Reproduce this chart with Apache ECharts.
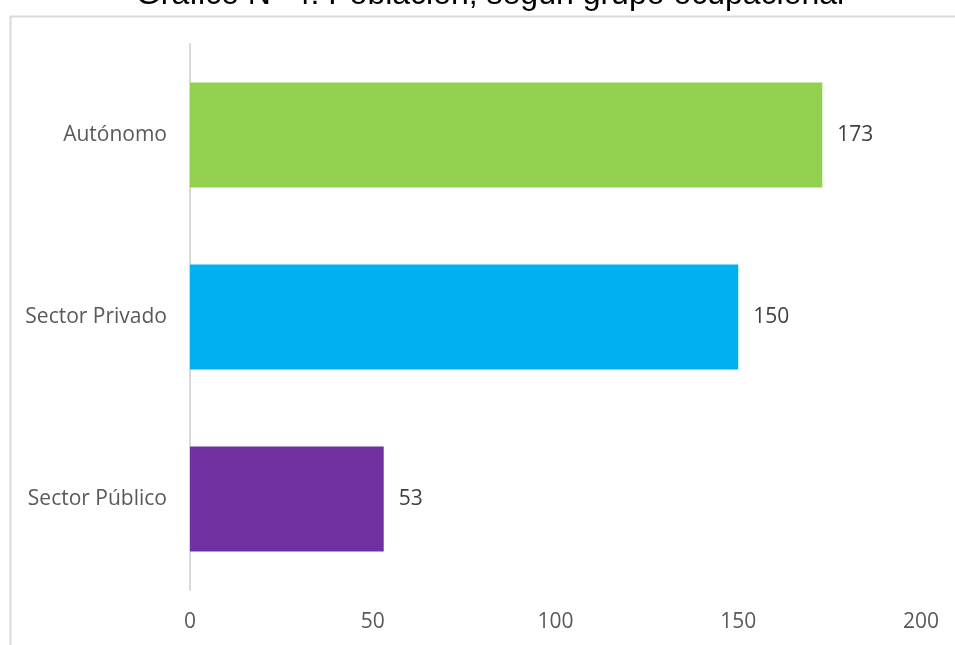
<!DOCTYPE html>
<html>
<head>
<meta charset="utf-8">
<script src="https://cdn.jsdelivr.net/npm/echarts@6/dist/echarts.min.js"></script>
<style>
  html, body { margin: 0; padding: 0; background: #ffffff; }
  #chart { width: 955px; height: 645px; }
</style>
</head>
<body>
<div id="chart"></div>
<script>
// Ocupación de la población (número de personas)
const categories = ['Autónomo', 'Sector Privado', 'Sector Público'];
const values = [173, 150, 53];
const barColors = ['#92D050', '#00B0F0', '#7030A0'];
const xTicks = [0, 50, 100, 150, 200];
const titleText = 'Gráfico N° 4: Población, según grupo ocupacional';

const chart = echarts.init(document.getElementById('chart'), null, { renderer: 'canvas' });

chart.setOption({
  animation: false,
  backgroundColor: '#ffffff',
  graphic: [
    {
      type: 'rect',
      left: 8, top: 14,
      shape: { x: 0, y: 0, width: 1000, height: 700 },
      style: { fill: 'none', stroke: '#d9d9d9', lineWidth: 2 },
      silent: true
    },
    {
      type: 'text',
      x: 490, y: -5,
      style: {
        text: titleText,
        font: '32px "Liberation Sans", Arial, sans-serif',
        fill: '#000000',
        align: 'center',
        verticalAlign: 'middle'
      },
      silent: true
    }
  ],
  grid: { left: 190, right: 34, top: 44, bottom: 55, containLabel: false },
  xAxis: {
    type: 'value',
    min: xTicks[0],
    max: xTicks[xTicks.length - 1],
    interval: xTicks[1] - xTicks[0],
    axisLine: { show: false },
    axisTick: { show: false },
    splitLine: { show: false },
    axisLabel: {
      color: '#595959',
      fontFamily: '"Open Sans", sans-serif',
      fontSize: 21,
      margin: 22
    }
  },
  yAxis: {
    type: 'category',
    data: categories,
    inverse: true,
    axisLine: { show: true, lineStyle: { color: '#d9d9d9', width: 2 } },
    axisTick: { show: false },
    axisLabel: {
      color: '#595959',
      fontFamily: '"Open Sans", sans-serif',
      fontSize: 21,
      margin: 23
    }
  },
  series: [
    {
      type: 'bar',
      data: values.map((v, i) => ({ value: v, itemStyle: { color: barColors[i] } })),
      barWidth: 105,
      label: {
        show: true,
        position: 'right',
        distance: 15,
        color: '#404040',
        fontFamily: '"Open Sans", sans-serif',
        fontSize: 21
      }
    }
  ]
});
</script>
</body>
</html>
